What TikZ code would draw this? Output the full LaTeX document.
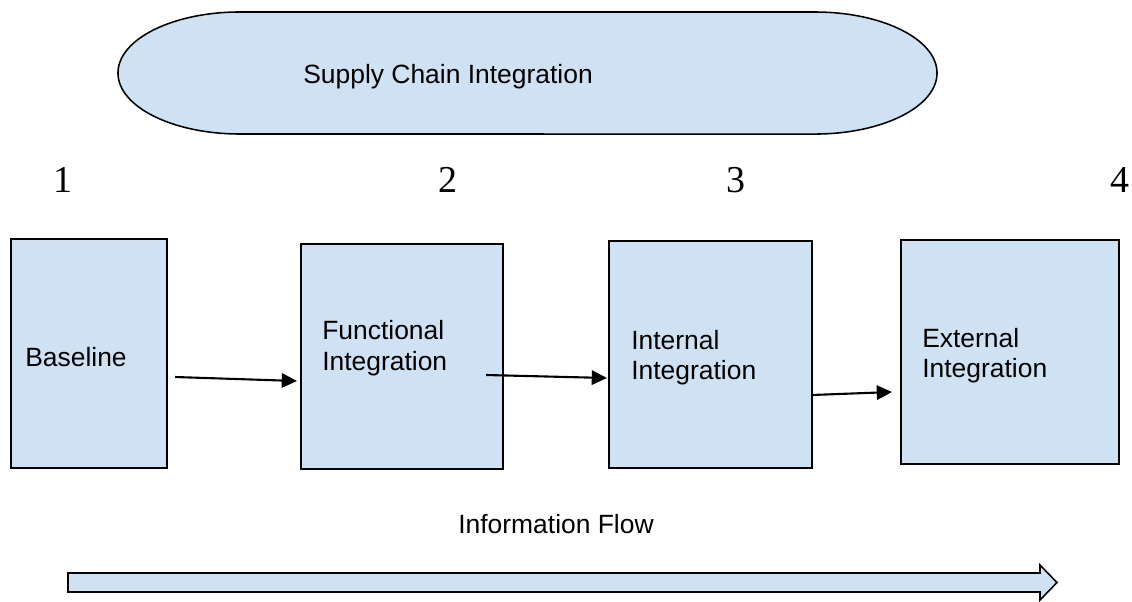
\documentclass[tikz,border=0pt]{standalone}
\usepackage{fontspec}
\setmainfont{Liberation Serif}
\setsansfont{Liberation Sans}
\usetikzlibrary{arrows.meta,calc}
\definecolor{paleblue}{RGB}{207,226,243}
\tikzset{
  stage/.style={draw=black, line width=1.4pt, fill=paleblue, inner sep=0pt, outer sep=0pt},
  caption/.style={font=\sffamily\fontsize{18.8}{21.7}\selectfont, align=left, inner sep=0pt, anchor=west},
  level/.style={font=\fontsize{27}{30}\selectfont, inner sep=0pt, anchor=base},
  link/.style={line width=1.5pt, -{Triangle[length=3.8mm,width=3.6mm]}}
}

\begin{document}
\begin{tikzpicture}[x=0.025cm, y=-0.025cm]
\useasboundingbox (0,0) rectangle (1132,601);

% supply chain integration
\draw[fill=paleblue, line width=1.1pt] (240,12) -- (815,12)
  arc[start angle=90, end angle=-90, x radius=3.05cm, y radius=1.525cm]
  -- (240,134)
  arc[start angle=270, end angle=90, x radius=3.05cm, y radius=1.525cm] -- cycle;
\node[caption] (sci) at (303,77) {Supply Chain Integration};

% levels
\node[level] (l1) at (63,192) {1};
\node[level] (l2) at (448,192) {2};
\node[level] (l3) at (736,192) {3};
\node[level] (l4) at (1120,192) {4};

% stages
\node[stage, minimum width=3.9cm, minimum height=5.725cm] (b1) at (89,353.5) {};
\node[stage, minimum width=5.05cm, minimum height=5.625cm] (b2) at (402,356.5) {};
\node[stage, minimum width=5.075cm, minimum height=5.675cm] (b3) at (710.5,354.5) {};
\node[stage, minimum width=5.45cm, minimum height=5.6cm] (b4) at (1010,352) {};

\node[caption] (t1) at (25,357.5) {Baseline};
\node[caption] (t2) at (322,348) {Functional\\Integration};
\node[caption] (t3) at (631,357.5) {Internal\\Integration};
\node[caption] (t4) at (922,355.5) {External\\Integration};

% arrows between stages
\draw[link] ([shift={(8,23.5)}]b1.east) -- ([shift={(-4,24.5)}]b2.west);
\draw[link] ([shift={(-17,18.5)}]b2.east) -- ([shift={(-2,23.5)}]b3.west);
\draw[link] ([shift={(0,40.5)}]b3.east) -- ([shift={(-9,40)}]b4.west);

% information flow
\node[caption] (info) at (458,524) {Information Flow};
\draw[fill=paleblue, line width=1.1pt] (68,573) -- (1040,573) -- (1040,565) -- (1057,582.5)
  -- (1040,600) -- (1040,592) -- (68,592) -- cycle;

\end{tikzpicture}
\end{document}
